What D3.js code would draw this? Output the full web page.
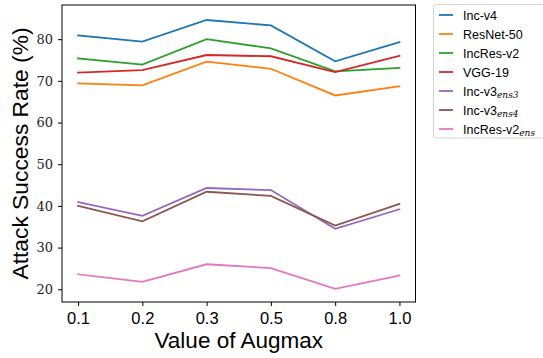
<!DOCTYPE html>
<html>
<head>
<meta charset="utf-8">
<script src="https://cdn.jsdelivr.net/npm/d3@7/dist/d3.min.js"></script>
<style>
  html, body { margin: 0; padding: 0; background: #fff; }
  svg { display: block; }
</style>
</head>
<body>
<svg id="chart" width="543" height="358"></svg>
<script>
// Augmax values on the x axis (categorical)
const augmax = ["0.1", "0.2", "0.3", "0.5", "0.8", "1.0"];
const yTicks = [20, 30, 40, 50, 60, 70, 80];

// Attack success rate (%) per target model
const incV4      = [80.9, 79.4, 84.6, 83.3, 74.7, 79.3];
const resnet50   = [69.4, 68.9, 74.6, 72.9, 66.5, 68.7];
const incResV2   = [75.4, 73.9, 80.0, 77.8, 72.3, 73.1];
const vgg19      = [72.0, 72.6, 76.2, 75.9, 72.1, 76.0];
const incV3ens3  = [40.9, 37.6, 44.3, 43.8, 34.5, 39.2];
const incV3ens4  = [40.0, 36.3, 43.4, 42.4, 35.3, 40.5];
const incResV2ens= [23.6, 21.8, 26.0, 25.1, 20.1, 23.3];

const seriesNames = [
  { base: "Inc-v4", sub: null },
  { base: "ResNet-50", sub: null },
  { base: "IncRes-v2", sub: null },
  { base: "VGG-19", sub: null },
  { base: "Inc-v3", sub: "ens3" },
  { base: "Inc-v3", sub: "ens4" },
  { base: "IncRes-v2", sub: "ens" }
];
const seriesValues = [incV4, resnet50, incResV2, vgg19, incV3ens3, incV3ens4, incResV2ens];
const colors = ["#1f77b4", "#ff7f0e", "#2ca02c", "#d62728", "#9467bd", "#8c564b", "#e377c2"];

const svg = d3.select("#chart");
const plot = { left: 62, right: 415.5, top: 5, bottom: 302 };

const x = d3.scalePoint()
  .domain(augmax)
  .range([plot.left, plot.right])
  .padding(0.25);

const y = d3.scaleLinear()
  .domain([16.95, 88.2])
  .range([plot.bottom, plot.top]);

// lines
const line = d3.line()
  .x((d, i) => x(augmax[i]))
  .y(d => y(d));

svg.append("g")
  .selectAll("path")
  .data(seriesValues)
  .join("path")
  .attr("d", d => line(d))
  .attr("fill", "none")
  .attr("stroke", (d, i) => colors[i])
  .attr("stroke-width", 1.8)
  .attr("stroke-linejoin", "miter")
  .attr("stroke-linecap", "square");

// frame
svg.append("rect")
  .attr("x", plot.left)
  .attr("y", plot.top)
  .attr("width", plot.right - plot.left)
  .attr("height", plot.bottom - plot.top)
  .attr("fill", "none")
  .attr("stroke", "#000")
  .attr("stroke-width", 1);

// x axis
const xAxis = svg.append("g")
  .attr("transform", `translate(0,${plot.bottom})`)
  .call(d3.axisBottom(x).tickSize(4).tickPadding(6));
xAxis.select(".domain").remove();
xAxis.selectAll("text")
  .attr("font-family", "Liberation Sans, Arial, sans-serif")
  .attr("font-size", 16.5)
  .attr("fill", "#000");

// y axis
const yAxis = svg.append("g")
  .attr("transform", `translate(${plot.left},0)`)
  .call(d3.axisLeft(y).tickValues(yTicks).tickSize(4).tickPadding(5));
yAxis.select(".domain").remove();
yAxis.selectAll("text")
  .attr("font-family", "DejaVu Serif, serif")
  .attr("font-size", 13)
  .attr("fill", "#222");

// axis titles
svg.append("text")
  .attr("x", (plot.left + plot.right) / 2)
  .attr("y", 348)
  .attr("text-anchor", "middle")
  .attr("font-family", "Liberation Sans, Arial, sans-serif")
  .attr("font-size", 22.5)
  .attr("fill", "#000")
  .text("Value of Augmax");

svg.append("text")
  .attr("transform", `translate(27.5,${(plot.top + plot.bottom) / 2}) rotate(-90)`)
  .attr("text-anchor", "middle")
  .attr("font-family", "Liberation Sans, Arial, sans-serif")
  .attr("font-size", 22.8)
  .attr("fill", "#000")
  .text("Attack Success Rate (%)");

// legend
const legend = svg.append("g");
legend.append("rect")
  .attr("x", 433.5)
  .attr("y", 4.5)
  .attr("width", 120)
  .attr("height", 133.5)
  .attr("rx", 2.5)
  .attr("fill", "#fff")
  .attr("stroke", "#d5d5d5")
  .attr("stroke-width", 1);

const item = legend.selectAll("g.item")
  .data(seriesNames)
  .join("g")
  .attr("class", "item")
  .attr("transform", (d, i) => `translate(0,${15 + i * 19})`);

item.append("line")
  .attr("x1", 439).attr("x2", 453)
  .attr("y1", 0).attr("y2", 0)
  .attr("stroke", (d, i) => colors[i])
  .attr("stroke-width", 1.8);

const label = item.append("text")
  .attr("x", 463)
  .attr("y", 4.5)
  .attr("font-family", "Liberation Sans, Arial, sans-serif")
  .attr("font-size", 12.5)
  .attr("fill", "#000");
label.append("tspan").text(d => d.base);
label.filter(d => d.sub)
  .append("tspan")
  .attr("dy", 2.5)
  .attr("font-family", "DejaVu Serif, serif")
  .attr("font-style", "italic")
  .attr("font-size", 9)
  .text(d => d.sub);
</script>
</body>
</html>
